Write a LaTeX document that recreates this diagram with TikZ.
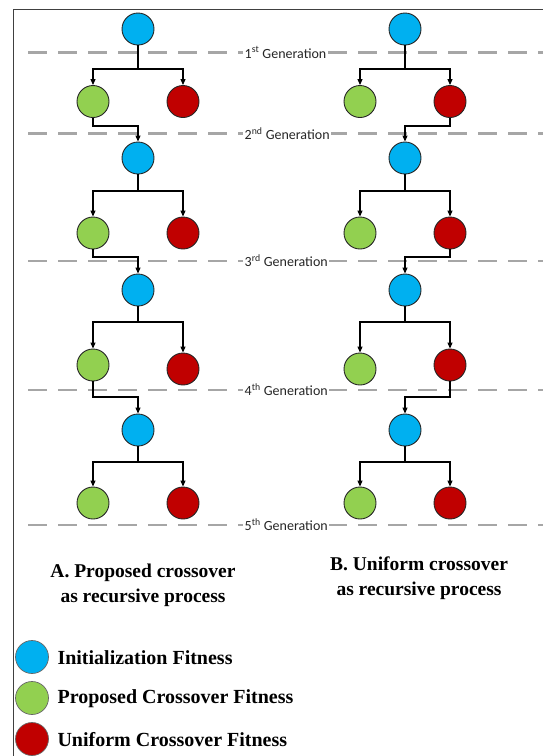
\documentclass[tikz,border=0pt]{standalone}
\usepackage{fontspec}
\setmainfont{Liberation Serif}
\newfontfamily\labelfont{Carlito}
\usetikzlibrary{arrows.meta}
\definecolor{initblue}{HTML}{00B0F0}
\definecolor{propgreen}{HTML}{92D050}
\definecolor{unifred}{HTML}{C00000}
\begin{document}
\begin{tikzpicture}[x=1pt,y=-1pt,
  ball/.style={circle, draw=black!85, line width=0.9pt, minimum size=32pt, inner sep=0pt},
  initb/.style={ball, fill=initblue},
  propb/.style={ball, fill=propgreen},
  unifb/.style={ball, fill=unifred},
  conn/.style={draw=black, line width=1.1pt},
  arr/.style={conn, -{Triangle[length=6pt,width=5pt]}},
  genline/.style={draw=gray!70, line width=2.3pt, dash pattern=on 19pt off 11pt},
  genlabel/.style={font=\labelfont\fontsize{14}{16}\selectfont, fill=white, inner sep=1.5pt, anchor=west, text=black!85},
  captext/.style={font=\bfseries\fontsize{19.5}{25}\selectfont, align=center},
  legball/.style={circle, draw=gray!80!black, line width=0.7pt, minimum size=33pt, inner sep=0pt},
  legtext/.style={font=\bfseries\fontsize{20}{22}\selectfont, anchor=west}
]
\useasboundingbox (0,0) rectangle (543,756);
% frame
\draw[draw=black!75, line width=1.4pt] (543,9.3) -- (13.3,9.3) -- (13.3,756);

% generation lines
\foreach \y in {52.5,133.5,261,390,525}{\draw[genline] (28,\y) -- (543,\y);}
\node[genlabel] (gen1) at (243,52.5) {1\textsuperscript{st} Generation};
\node[genlabel] (gen2) at (243,133.5) {2\textsuperscript{nd} Generation};
\node[genlabel] (gen3) at (243,261) {3\textsuperscript{rd} Generation};
\node[genlabel] (gen4) at (243,390) {4\textsuperscript{th} Generation};
\node[genlabel] (gen5) at (243,525) {5\textsuperscript{th} Generation};

% ---- column A ----
\node[initb] (bA1) at (138,29) {};
\node[propb] (gA1) at (93,101.5) {};
\node[unifb] (rA1) at (183,101.5) {};
\node[initb] (bA2) at (138,158) {};
\node[propb] (gA2) at (93,233) {};
\node[unifb] (rA2) at (183,233) {};
\node[initb] (bA3) at (138,290) {};
\node[propb] (gA3) at (93,365) {};
\node[unifb] (rA3) at (183,369) {};
\node[initb] (bA4) at (138,430) {};
\node[propb] (gA4) at (93,503) {};
\node[unifb] (rA4) at (183,503) {};

\coordinate (jA1) at (138,69);
\coordinate (jA2) at (138,191);
\coordinate (jA3) at (138,322);
\coordinate (jA4) at (138,462);
\coordinate (kA1) at (138,126);
\coordinate (kA2) at (138,257);
\coordinate (kA3) at (138,397);

\foreach \i in {1,2,3,4}{
  \draw[conn] (bA\i) -- (jA\i);
  \draw[arr] (jA\i) -| (gA\i.north);
  \draw[arr] (jA\i) -| (rA\i.north);
}
\draw[arr] (gA1.south) |- (kA1) -- (bA2.north);
\draw[arr] (gA2.south) |- (kA2) -- (bA3.north);
\draw[arr] (gA3.south) |- (kA3) -- (bA4.north);

% ---- column B ----
\node[initb] (bB1) at (405,29) {};
\node[propb] (gB1) at (360,101.5) {};
\node[unifb] (rB1) at (450,101.5) {};
\node[initb] (bB2) at (405,158) {};
\node[propb] (gB2) at (360,233) {};
\node[unifb] (rB2) at (450,233) {};
\node[initb] (bB3) at (405,290) {};
\node[propb] (gB3) at (360,369) {};
\node[unifb] (rB3) at (450,365) {};
\node[initb] (bB4) at (405,430) {};
\node[propb] (gB4) at (360,503) {};
\node[unifb] (rB4) at (450,503) {};

\coordinate (jB1) at (405,69);
\coordinate (jB2) at (405,191);
\coordinate (jB3) at (405,322);
\coordinate (jB4) at (405,462);
\coordinate (kB1) at (405,126);
\coordinate (kB2) at (405,257);
\coordinate (kB3) at (405,397);

\foreach \i in {1,2,3,4}{
  \draw[conn] (bB\i) -- (jB\i);
  \draw[arr] (jB\i) -| (gB\i.north);
  \draw[arr] (jB\i) -| (rB\i.north);
}
\draw[arr] (rB1.south) |- (kB1) -- (bB2.north);
\draw[arr] (rB2.south) |- (kB2) -- (bB3.north);
\draw[arr] (rB3.south) |- (kB3) -- (bB4.north);

% captions
\node[captext] (capA) at (143,585) {A. Proposed crossover\\as recursive process};
\node[captext] (capB) at (419,578) {B. Uniform crossover\\as recursive process};

% legend
\node[legball, fill=initblue] (legI) at (32,657) {};
\node[legball, fill=propgreen] (legP) at (32,698) {};
\node[legball, fill=unifred] (legU) at (32,739) {};
\node[legtext] (legIt) at (54,658) {Initialization Fitness};
\node[legtext] (legPt) at (54,699) {Proposed Crossover Fitness};
\node[legtext] (legUt) at (54,740) {Uniform Crossover Fitness};
\end{tikzpicture}
\end{document}
